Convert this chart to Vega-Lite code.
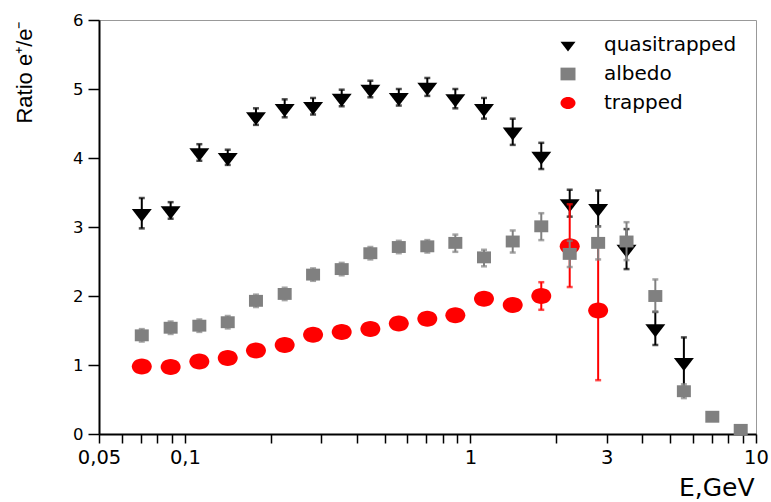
{
  "$schema": "https://vega.github.io/schema/vega-lite/v6.json",
  "width": 657,
  "height": 414,
  "autosize": {"type": "none"},
  "padding": {"left": 99, "top": 20, "right": 15, "bottom": 68},
  "background": "white",
  "data": {
    "values": [
      {"s": "quasitrapped", "E": 0.0706, "y": 3.20, "lo": 2.98, "hi": 3.42},
      {"s": "quasitrapped", "E": 0.0891, "y": 3.24, "lo": 3.12, "hi": 3.36},
      {"s": "quasitrapped", "E": 0.1123, "y": 4.08, "lo": 3.96, "hi": 4.20},
      {"s": "quasitrapped", "E": 0.1412, "y": 4.01, "lo": 3.90, "hi": 4.12},
      {"s": "quasitrapped", "E": 0.1773, "y": 4.60, "lo": 4.48, "hi": 4.72},
      {"s": "quasitrapped", "E": 0.2235, "y": 4.72, "lo": 4.59, "hi": 4.85},
      {"s": "quasitrapped", "E": 0.281, "y": 4.75, "lo": 4.63, "hi": 4.87},
      {"s": "quasitrapped", "E": 0.354, "y": 4.87, "lo": 4.75, "hi": 4.99},
      {"s": "quasitrapped", "E": 0.446, "y": 5.00, "lo": 4.88, "hi": 5.12},
      {"s": "quasitrapped", "E": 0.561, "y": 4.88, "lo": 4.76, "hi": 5.00},
      {"s": "quasitrapped", "E": 0.706, "y": 5.03, "lo": 4.90, "hi": 5.16},
      {"s": "quasitrapped", "E": 0.885, "y": 4.86, "lo": 4.72, "hi": 5.00},
      {"s": "quasitrapped", "E": 1.115, "y": 4.72, "lo": 4.57, "hi": 4.87},
      {"s": "quasitrapped", "E": 1.406, "y": 4.38, "lo": 4.19, "hi": 4.57},
      {"s": "quasitrapped", "E": 1.77, "y": 4.03, "lo": 3.84, "hi": 4.22},
      {"s": "quasitrapped", "E": 2.226, "y": 3.34, "lo": 3.15, "hi": 3.54},
      {"s": "quasitrapped", "E": 2.80, "y": 3.27, "lo": 3.01, "hi": 3.53},
      {"s": "quasitrapped", "E": 3.52, "y": 2.68, "lo": 2.39, "hi": 2.97},
      {"s": "quasitrapped", "E": 4.44, "y": 1.53, "lo": 1.29, "hi": 1.77},
      {"s": "quasitrapped", "E": 5.59, "y": 1.04, "lo": 0.68, "hi": 1.40},
      {"s": "trapped", "E": 0.0706, "y": 0.98, "lo": 0.93, "hi": 1.03},
      {"s": "trapped", "E": 0.0891, "y": 0.97, "lo": 0.92, "hi": 1.02},
      {"s": "trapped", "E": 0.1123, "y": 1.05, "lo": 1.00, "hi": 1.10},
      {"s": "trapped", "E": 0.1412, "y": 1.10, "lo": 1.05, "hi": 1.15},
      {"s": "trapped", "E": 0.1773, "y": 1.21, "lo": 1.16, "hi": 1.26},
      {"s": "trapped", "E": 0.2235, "y": 1.29, "lo": 1.24, "hi": 1.34},
      {"s": "trapped", "E": 0.281, "y": 1.44, "lo": 1.39, "hi": 1.49},
      {"s": "trapped", "E": 0.354, "y": 1.48, "lo": 1.43, "hi": 1.53},
      {"s": "trapped", "E": 0.446, "y": 1.52, "lo": 1.47, "hi": 1.57},
      {"s": "trapped", "E": 0.561, "y": 1.60, "lo": 1.55, "hi": 1.65},
      {"s": "trapped", "E": 0.706, "y": 1.67, "lo": 1.62, "hi": 1.72},
      {"s": "trapped", "E": 0.885, "y": 1.72, "lo": 1.67, "hi": 1.77},
      {"s": "trapped", "E": 1.115, "y": 1.96, "lo": 1.91, "hi": 2.01},
      {"s": "trapped", "E": 1.406, "y": 1.87, "lo": 1.82, "hi": 1.92},
      {"s": "trapped", "E": 1.77, "y": 2.00, "lo": 1.80, "hi": 2.20},
      {"s": "trapped", "E": 2.226, "y": 2.72, "lo": 2.13, "hi": 3.33},
      {"s": "trapped", "E": 2.80, "y": 1.79, "lo": 0.78, "hi": 2.80},
      {"s": "albedo", "E": 0.0706, "y": 1.43, "lo": 1.34, "hi": 1.52},
      {"s": "albedo", "E": 0.0891, "y": 1.54, "lo": 1.45, "hi": 1.63},
      {"s": "albedo", "E": 0.1123, "y": 1.57, "lo": 1.48, "hi": 1.66},
      {"s": "albedo", "E": 0.1412, "y": 1.62, "lo": 1.53, "hi": 1.71},
      {"s": "albedo", "E": 0.1773, "y": 1.93, "lo": 1.84, "hi": 2.02},
      {"s": "albedo", "E": 0.2235, "y": 2.03, "lo": 1.94, "hi": 2.12},
      {"s": "albedo", "E": 0.281, "y": 2.31, "lo": 2.22, "hi": 2.40},
      {"s": "albedo", "E": 0.354, "y": 2.39, "lo": 2.30, "hi": 2.48},
      {"s": "albedo", "E": 0.446, "y": 2.62, "lo": 2.53, "hi": 2.71},
      {"s": "albedo", "E": 0.561, "y": 2.71, "lo": 2.62, "hi": 2.80},
      {"s": "albedo", "E": 0.706, "y": 2.72, "lo": 2.63, "hi": 2.81},
      {"s": "albedo", "E": 0.885, "y": 2.77, "lo": 2.64, "hi": 2.89},
      {"s": "albedo", "E": 1.115, "y": 2.56, "lo": 2.43, "hi": 2.67},
      {"s": "albedo", "E": 1.406, "y": 2.79, "lo": 2.63, "hi": 2.95},
      {"s": "albedo", "E": 1.77, "y": 3.01, "lo": 2.81, "hi": 3.20},
      {"s": "albedo", "E": 2.226, "y": 2.61, "lo": 2.42, "hi": 2.80},
      {"s": "albedo", "E": 2.80, "y": 2.77, "lo": 2.53, "hi": 3.01},
      {"s": "albedo", "E": 3.52, "y": 2.79, "lo": 2.52, "hi": 3.07},
      {"s": "albedo", "E": 4.44, "y": 2.00, "lo": 1.77, "hi": 2.24},
      {"s": "albedo", "E": 5.59, "y": 0.62, "lo": 0.52, "hi": 0.72},
      {"s": "albedo", "E": 7.03, "y": 0.25, "lo": 0.20, "hi": 0.30},
      {"s": "albedo", "E": 8.84, "y": 0.06, "lo": 0.02, "hi": 0.10}
    ]
  },
  "encoding": {
    "x": {
      "field": "E",
      "type": "quantitative",
      "title": "E,GeV",
      "scale": {"type": "log", "domain": [0.05, 10], "nice": false},
      "axis": {
        "values": [0.05, 0.06, 0.07, 0.08, 0.09, 0.1, 0.2, 0.3, 0.4, 0.5, 0.6, 0.7, 0.8, 0.9, 1, 2, 3, 4, 5, 6, 7, 8, 9, 10],
        "labelExpr": "indexof([0.05, 0.1, 1, 3, 10], datum.value) >= 0 ? replace('' + datum.value, '.', ',') : ''",
        "encode": {"ticks": {"update": {"y2": {"signal": "indexof([0.05, 0.1, 1, 3, 10], datum.value) >= 0 ? 9 : 5"}}}},
        "titleX": 655,
        "titleY": 61,
        "titleAlign": "right",
        "titleBaseline": "alphabetic"
      }
    },
    "y": {
      "field": "y",
      "type": "quantitative",
      "title": "Ratio e⁺/e⁻",
      "scale": {"domain": [0, 6], "nice": false},
      "axis": {
        "values": [0, 0.5, 1, 1.5, 2, 2.5, 3, 3.5, 4, 4.5, 5, 5.5, 6],
        "labelExpr": "floor(datum.value) === datum.value ? datum.label : ''",
        "format": "d",
        "encode": {"ticks": {"update": {"x2": {"signal": "floor(datum.value) === datum.value ? -11 : -7"}}}},
        "titleAngle": -90,
        "titleAlign": "right",
        "titleBaseline": "alphabetic",
        "titleX": -68,
        "titleY": 1
      }
    }
  },
  "layer": [
    {
      "transform": [{"filter": "datum.s === 'quasitrapped'"}],
      "layer": [
        {
          "mark": {"type": "rule", "color": "black", "strokeWidth": 2},
          "encoding": {"y": {"field": "lo", "type": "quantitative", "title": "Ratio e⁺/e⁻"}, "y2": {"field": "hi"}}
        },
        {
          "mark": {"type": "tick", "orient": "horizontal", "color": "black", "size": 6, "thickness": 2.5},
          "encoding": {"y": {"field": "hi", "type": "quantitative", "title": "Ratio e⁺/e⁻"}}
        },
        {
          "mark": {"type": "tick", "orient": "horizontal", "color": "black", "size": 6, "thickness": 2.5},
          "encoding": {"y": {"field": "lo", "type": "quantitative", "title": "Ratio e⁺/e⁻"}}
        },
        {
          "mark": {"type": "point", "filled": true, "opacity": 1, "size": 400, "strokeWidth": 0},
          "encoding": {
            "color": {
              "field": "s", "type": "nominal", "title": null,
              "scale": {"domain": ["quasitrapped", "albedo", "trapped"], "range": ["#000000", "#808080", "#ff0000"]},
              "legend": {
                "encode": {"symbols": {"update": {"size": {"signal": "datum.value === 'albedo' ? 64 : datum.value === 'trapped' ? 170 : 225"}}}}
              }
            },
            "shape": {
              "field": "s", "type": "nominal", "title": null,
              "scale": {"domain": ["quasitrapped", "albedo", "trapped"], "range": ["M-1,-0.43L1,-0.43L0,0.87Z", "M-1,-0.85L1,-0.85L1,0.85L-1,0.85Z", "M-1,0A1,0.8,0,1,1,1,0A1,0.8,0,1,1,-1,0Z"]}
            }
          }
        }
      ]
    },
    {
      "transform": [{"filter": "datum.s === 'trapped'"}],
      "layer": [
        {
          "mark": {"type": "rule", "color": "#ff0000", "strokeWidth": 2},
          "encoding": {"y": {"field": "lo", "type": "quantitative", "title": "Ratio e⁺/e⁻"}, "y2": {"field": "hi"}}
        },
        {
          "mark": {"type": "tick", "orient": "horizontal", "color": "#ff0000", "size": 6, "thickness": 2.5},
          "encoding": {"y": {"field": "hi", "type": "quantitative", "title": "Ratio e⁺/e⁻"}}
        },
        {
          "mark": {"type": "tick", "orient": "horizontal", "color": "#ff0000", "size": 6, "thickness": 2.5},
          "encoding": {"y": {"field": "lo", "type": "quantitative", "title": "Ratio e⁺/e⁻"}}
        },
        {
          "mark": {"type": "point", "filled": true, "opacity": 1, "size": 400, "strokeWidth": 0},
          "encoding": {
            "color": {
              "field": "s", "type": "nominal", "title": null,
              "scale": {"domain": ["quasitrapped", "albedo", "trapped"], "range": ["#000000", "#808080", "#ff0000"]}
            },
            "shape": {
              "field": "s", "type": "nominal", "title": null,
              "scale": {"domain": ["quasitrapped", "albedo", "trapped"], "range": ["M-1,-0.43L1,-0.43L0,0.87Z", "M-1,-0.85L1,-0.85L1,0.85L-1,0.85Z", "M-1,0A1,0.8,0,1,1,1,0A1,0.8,0,1,1,-1,0Z"]}
            }
          }
        }
      ]
    },
    {
      "transform": [{"filter": "datum.s === 'albedo'"}],
      "layer": [
        {
          "mark": {"type": "rule", "color": "#808080", "strokeWidth": 2},
          "encoding": {"y": {"field": "lo", "type": "quantitative", "title": "Ratio e⁺/e⁻"}, "y2": {"field": "hi"}}
        },
        {
          "mark": {"type": "tick", "orient": "horizontal", "color": "#808080", "size": 6, "thickness": 2.5},
          "encoding": {"y": {"field": "hi", "type": "quantitative", "title": "Ratio e⁺/e⁻"}}
        },
        {
          "mark": {"type": "tick", "orient": "horizontal", "color": "#808080", "size": 6, "thickness": 2.5},
          "encoding": {"y": {"field": "lo", "type": "quantitative", "title": "Ratio e⁺/e⁻"}}
        },
        {
          "mark": {"type": "point", "filled": true, "opacity": 1, "size": 196, "strokeWidth": 0},
          "encoding": {
            "color": {
              "field": "s", "type": "nominal", "title": null,
              "scale": {"domain": ["quasitrapped", "albedo", "trapped"], "range": ["#000000", "#808080", "#ff0000"]}
            },
            "shape": {
              "field": "s", "type": "nominal", "title": null,
              "scale": {"domain": ["quasitrapped", "albedo", "trapped"], "range": ["M-1,-0.43L1,-0.43L0,0.87Z", "M-1,-0.85L1,-0.85L1,0.85L-1,0.85Z", "M-1,0A1,0.8,0,1,1,1,0A1,0.8,0,1,1,-1,0Z"]}
            }
          }
        }
      ]
    }
  ],
  "config": {
    "view": {"stroke": "#999999", "strokeWidth": 1},
    "axis": {
      "labelColor": "black",
      "labelOverlap": false,
      "labelFlush": false,
      "labelBound": false,
      "domainColor": "black",
      "domainWidth": 2,
      "tickColor": "black",
      "tickWidth": 1.5,
      "grid": false,
      "titleColor": "black",
      "titleFontWeight": "normal",
      "zindex": 1
    },
    "axisX": {
      "labelFont": "DejaVu Sans",
      "labelFontSize": 19.5,
      "labelPadding": 5,
      "tickSize": 9,
      "titleFont": "DejaVu Sans",
      "titleFontSize": 25
    },
    "axisY": {
      "labelFont": "DejaVu Sans",
      "labelFontSize": 16.5,
      "labelPadding": 5,
      "tickSize": 11,
      "titleFont": "Liberation Sans",
      "titleFontSize": 22
    },
    "legend": {
      "orient": "none",
      "legendX": 459,
      "legendY": 15,
      "padding": 0,
      "symbolSize": 225,
      "symbolStrokeWidth": 0,
      "symbolOffset": 0,
      "labelFont": "DejaVu Sans",
      "labelFontSize": 20,
      "labelColor": "black",
      "labelOffset": 26,
      "rowPadding": 9
    }
  }
}
